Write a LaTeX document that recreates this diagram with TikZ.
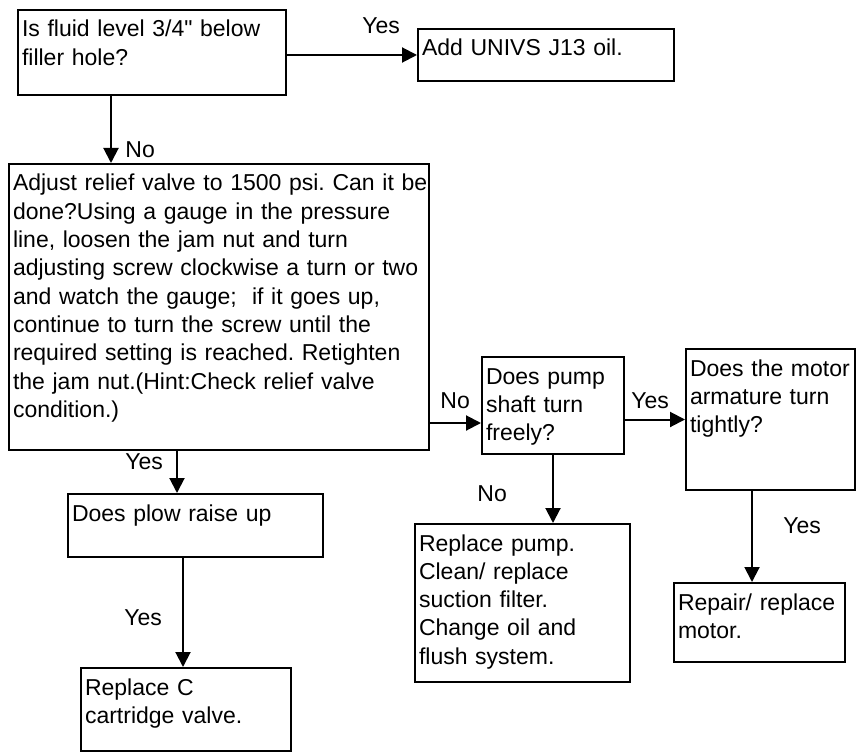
\documentclass[tikz,border=0pt]{standalone}
\usepackage{fontspec}
\newfontfamily\arialfont{Liberation Sans}
\usetikzlibrary{arrows.meta,calc}

\begin{document}
\begin{tikzpicture}[
    x=0.5pt, y=-0.5pt,
    box/.style={draw, line width=1pt, anchor=north west, align=left, inner xsep=2pt, inner ysep=3pt, text height=10.5pt, font=\arialfont\frenchspacing\fontsize{11.5}{14.15}\selectfont},
    lbl/.style={anchor=base west, inner sep=0pt, font=\arialfont\fontsize{11.5}{14.15}\selectfont},
    arr/.style={line width=1pt, -{Triangle[length=7.5pt, width=7.5pt]}}
]
    \useasboundingbox (0,0) rectangle (860,754);

    % Cajas del diagrama (coordenadas en pixeles, y hacia abajo)
    \node[box, text width=130pt, text depth=26pt] (fluid) at (17,9) {Is fluid level 3/4" below\\filler hole?};
    \node[box, text width=124pt, text depth=9.5pt] (oil) at (417,28) {Add UNIVS J13 oil.};
    \node[box, text width=206pt, text depth=126.5pt] (relief) at (8,163) {\mbox{Adjust relief valve to 1500 psi. Can it be}\\
        done?Using a gauge in the pressure\\
        line, loosen the jam nut and turn\\
        \mbox{adjusting screw clockwise a turn or two}\\
        and watch the gauge;\ \ if it goes up,\\
        continue to turn the screw until the\\
        \mbox{required setting is reached. Retighten}\\
        the jam nut.(Hint:Check relief valve\\
        condition.)};
    \node[box, text width=123.5pt, text depth=15pt] (plow) at (67,493) {Does plow raise up};
    \node[box, text width=101pt, text depth=25pt] (cart) at (80,667) {Replace C\\cartridge valve.};
    \node[box, text width=67pt, text depth=32pt] (shaft) at (481,356) {Does pump\\shaft turn\\freely?};
    \node[box, text width=80.5pt, text depth=54pt] (motor) at (685,348) {\mbox{Does the motor}\\armature turn\\tightly?};
    \node[box, text width=103.5pt, text depth=62.5pt] (pump) at (414,523) {Replace pump.\\Clean/ replace\\suction filter.\\Change oil and\\flush system.};
    \node[box, text width=81.5pt, text depth=23pt] (repair) at (673,582) {Repair/ replace\\motor.};

    % Flechas entre cajas
    \draw[arr] (fluid.east |- oil.west) -- (oil.west);
    \draw[arr] ($(fluid.south west)+(94,0)$) coordinate (a) -- (a |- relief.north);
    \draw[arr] ($(relief.south east)+(0,-28)$) coordinate (b) -- (b -| shaft.west);
    \draw[arr] ($(shaft.east)+(0,14)$) coordinate (c) -- (c -| motor.west);
    \draw[arr] (shaft.south) -- (shaft.south |- pump.north);
    \draw[arr] ($(motor.south west)+(67,0)$) coordinate (d) -- (d |- repair.north);
    \draw[arr] ($(relief.south west)+(169,0)$) coordinate (e) -- (e |- plow.north);
    \draw[arr] ($(plow.south west)+(116,0)$) coordinate (f) -- (f |- cart.north);

    % Etiquetas
    \node[lbl] (yes1) at (362,34) {Yes};
    \node[lbl] (no1) at (125,158) {No};
    \node[lbl] (no2) at (440,408) {No};
    \node[lbl] (yes2) at (631,408) {Yes};
    \node[lbl] (no3) at (477,501) {No};
    \node[lbl] (yes3) at (783,533) {Yes};
    \node[lbl] (yes4) at (125,469) {Yes};
    \node[lbl] (yes5) at (124,625) {Yes};
\end{tikzpicture}
\end{document}
